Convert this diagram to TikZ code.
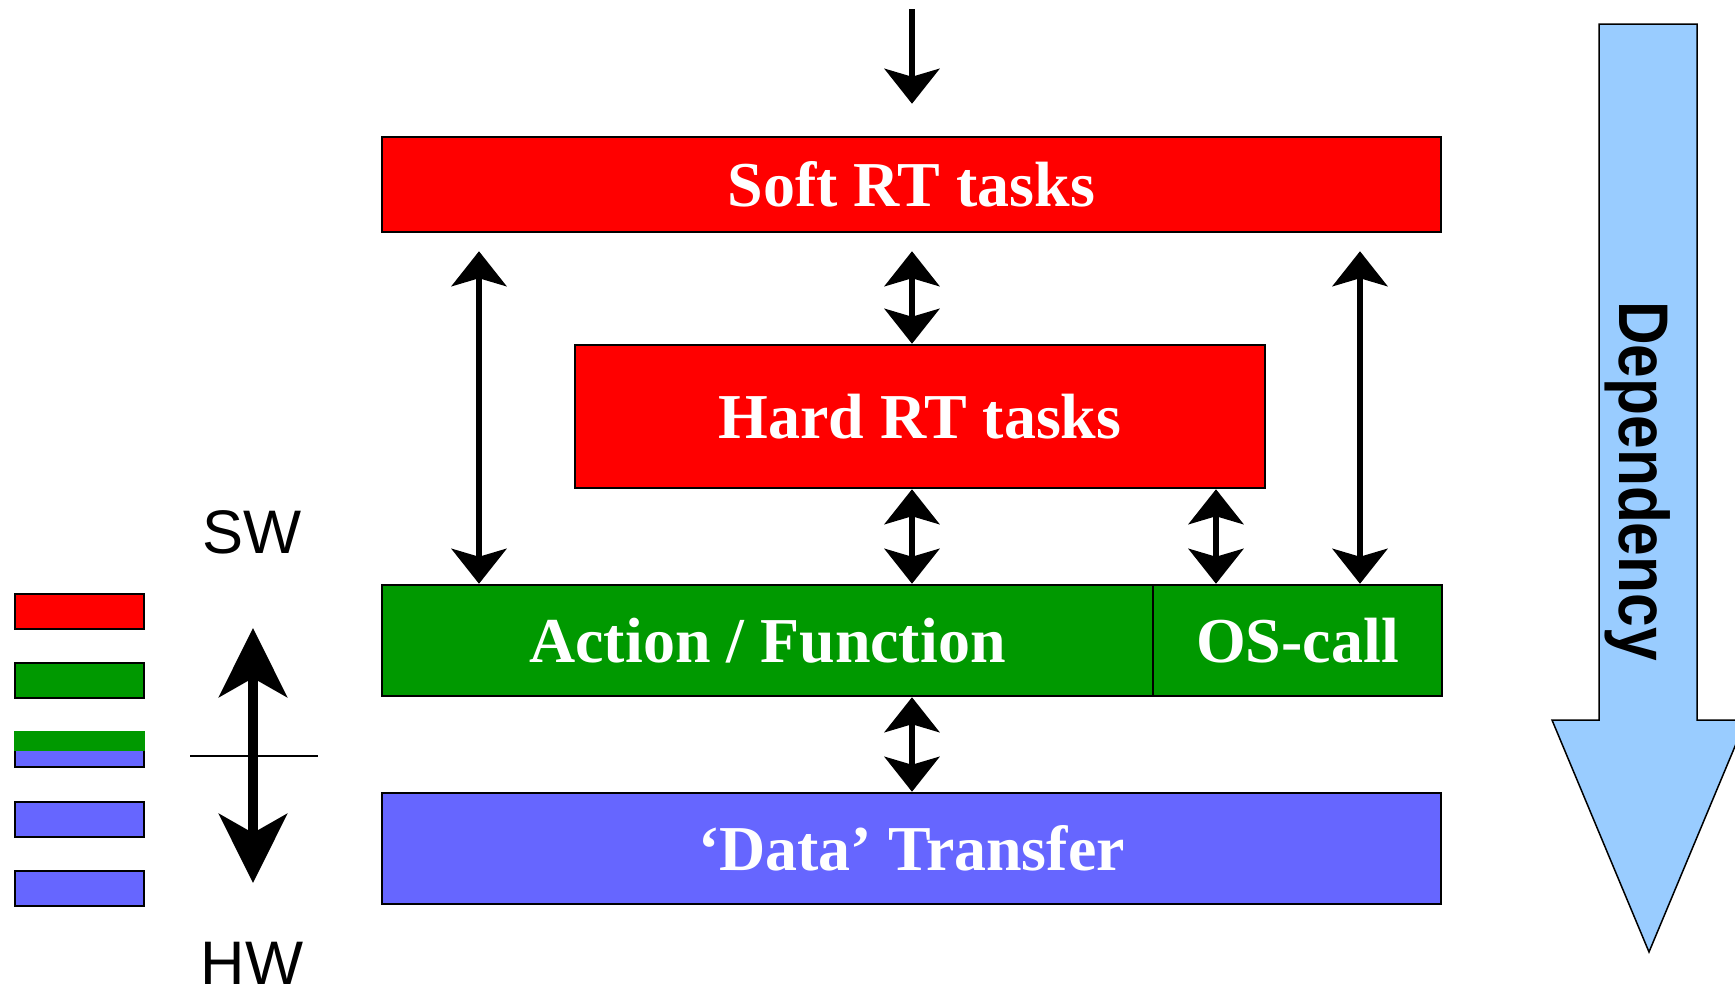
\documentclass[tikz,border=0pt]{standalone}
\usepackage{fontspec}
\setmainfont{Liberation Serif}
\setsansfont{Liberation Sans}
\usetikzlibrary{arrows.meta}
\definecolor{rtred}{RGB}{255,0,0}
\definecolor{fngreen}{RGB}{0,153,0}
\definecolor{hwblue}{RGB}{102,102,255}
\definecolor{depblue}{RGB}{153,204,255}

\begin{document}
\begin{tikzpicture}[x=0.1mm, y=-0.1mm,
    >={Stealth[length=3.5mm, width=5.5mm, inset=0.8mm]},
    layer/.style={draw=black, line width=0.25mm, inner sep=0pt, text=white,
        font=\bfseries\fontsize{18.2}{22}\selectfont},
    legbox/.style={draw=black, line width=0.2mm, inner sep=0pt,
        minimum width=12.9mm, minimum height=3.5mm},
    link/.style={line width=0.55mm},
    bigarrow/.style={line width=1mm,
        {Stealth[length=6.9mm, width=6.8mm, inset=1.9mm]}-{Stealth[length=6.9mm, width=6.8mm, inset=1.9mm]}}]
    \useasboundingbox (0,0) rectangle (1735,995);

    % Layers
    \node[layer, fill=rtred, minimum width=105.9mm, minimum height=9.5mm] (soft) at (911.5,184.5) {Soft RT tasks};
    \node[layer, fill=rtred, minimum width=69mm, minimum height=14.3mm] (hard) at (920,416.5) {Hard RT tasks};
    \node[layer, fill=fngreen, minimum width=77.1mm, minimum height=11.1mm] (act) at (767.5,640.5) {Action / Function};
    \node[layer, fill=fngreen, minimum width=28.9mm, minimum height=11.1mm] (os) at (1297.5,640.5) {OS-call};
    \node[layer, fill=hwblue, minimum width=105.9mm, minimum height=11.1mm] (data) at (911.5,848.5) {`Data' Transfer};

    % Connectors
    \coordinate (in) at (912,9);
    \coordinate (lx) at (479,0);
    \coordinate (mx) at (912,0);
    \coordinate (ox) at (1216,0);
    \coordinate (rx) at (1360,0);
    \draw[link, ->, shorten >=3.2mm] (in) -- (soft.north -| in);
    \draw[link, <->, shorten >=1.8mm] (hard.north -| mx) -- (soft.south -| mx);
    \draw[link, <->, shorten >=1.8mm] (act.north -| lx) -- (soft.south -| lx);
    \draw[link, <->, shorten >=1.8mm] (os.north -| rx) -- (soft.south -| rx);
    \draw[link, <->] (act.north -| mx) -- (hard.south -| mx);
    \draw[link, <->] (os.north -| ox) -- (hard.south -| ox);
    \draw[link, <->] (data.north -| mx) -- (act.south -| mx);

    % Legend
    \node[legbox, fill=rtred] (lred) at (79.5,611.5) {};
    \node[legbox, fill=fngreen] (lgreen) at (79.5,680.5) {};
    \node[legbox, fill=hwblue] (lmix) at (79.5,749.5) {};
    \fill[fngreen] (lmix.north west) rectangle ([shift={(0,20)}]lmix.north east);
    \node[legbox, fill=hwblue] (lblue) at (79.5,819.5) {};
    \node[legbox, fill=hwblue] (lhw) at (79.5,888.5) {};

    % SW - HW
    \node[font=\sffamily\fontsize{17.5}{20}\selectfont] (sw) at (252,532) {SW};
    \node[font=\sffamily\fontsize{17.5}{20}\selectfont] (hw) at (252,963) {HW};
    \coordinate (swend) at (253,628);
    \coordinate (hwend) at (253,883);
    \draw[bigarrow] (hwend) -- (swend);
    \draw[line width=0.15mm] (190,756) -- (318,756);

    % Dependency
    \draw[fill=depblue, line width=0.15mm] (1599,24) -- (1697,24) -- (1697,720) -- (1746,720)
        -- (1649,952) -- (1552,720) -- (1599,720) -- cycle;
    \node[rotate=-90, font=\sffamily\bfseries\fontsize{20}{24}\selectfont] (dep) at (1638,481)
        {\scalebox{0.86}[1]{Dependency}};
\end{tikzpicture}
\end{document}
